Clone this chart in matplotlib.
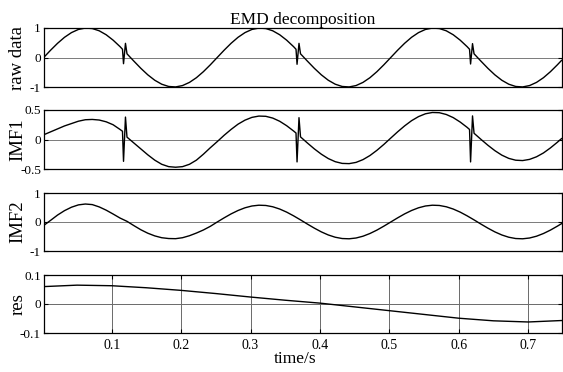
import numpy as np
import matplotlib
matplotlib.use("Agg")
import matplotlib.pyplot as plt

# ---------------- data ----------------
# regular sample grid (s)
t_base = np.round(0.002 + 0.01 * np.arange(75), 3).tolist() + [0.748]

raw_base = [
    0.000, 0.249, 0.482, 0.685, 0.844, 0.951, 0.998, 0.982, 0.905, 0.771, 0.588, 0.368, 0.125,
    -0.125, -0.368, -0.588, -0.771, -0.905, -0.982, -0.998, -0.951, -0.844, -0.685, -0.482, -0.249,
    0.000, 0.249, 0.482, 0.685, 0.844, 0.951, 0.998, 0.982, 0.905, 0.771, 0.588, 0.368, 0.125,
    -0.125, -0.368, -0.588, -0.771, -0.905, -0.982, -0.998, -0.951, -0.844, -0.685, -0.482, -0.249,
    0.000, 0.249, 0.482, 0.685, 0.844, 0.951, 0.998, 0.982, 0.905, 0.771, 0.588, 0.368, 0.125,
    -0.125, -0.368, -0.588, -0.771, -0.905, -0.982, -0.998, -0.951, -0.844, -0.685, -0.482, -0.249,
    -0.100,
]

imf1_base = [
    0.080, 0.130, 0.180, 0.230, 0.270, 0.310, 0.335, 0.340, 0.330, 0.300, 0.250, 0.170, 0.040,
    -0.060, -0.160, -0.260, -0.350, -0.420, -0.460, -0.470, -0.460, -0.420, -0.350, -0.250, -0.140,
    -0.036, 0.072, 0.171, 0.260, 0.328, 0.375, 0.397, 0.393, 0.363, 0.309, 0.234, 0.144, 0.044,
    -0.060, -0.160, -0.249, -0.323, -0.376, -0.405, -0.409, -0.388, -0.341, -0.272, -0.184, -0.084,
    0.024, 0.131, 0.231, 0.319, 0.388, 0.436, 0.458, 0.454, 0.424, 0.371, 0.296, 0.206, 0.106,
    0.002, -0.098, -0.189, -0.265, -0.320, -0.351, -0.357, -0.337, -0.293, -0.228, -0.143, -0.047,
    0.015,
]

imf2_base = [
    -0.120, 0.058, 0.240, 0.392, 0.510, 0.590, 0.620, 0.600, 0.520, 0.408, 0.275, 0.136, 0.023,
    -0.126, -0.268, -0.387, -0.479, -0.542, -0.570, -0.575, -0.542, -0.473, -0.381, -0.276, -0.150,
    0.000, 0.144, 0.280, 0.397, 0.490, 0.552, 0.579, 0.570, 0.525, 0.447, 0.341, 0.213, 0.073,
    -0.073, -0.213, -0.341, -0.447, -0.525, -0.570, -0.579, -0.552, -0.490, -0.397, -0.280, -0.144,
    0.000, 0.144, 0.280, 0.397, 0.490, 0.552, 0.579, 0.570, 0.525, 0.447, 0.341, 0.213, 0.073,
    -0.073, -0.213, -0.341, -0.447, -0.525, -0.570, -0.579, -0.552, -0.490, -0.397, -0.280, -0.144,
    -0.058,
]

# spike samples (s)
t_spike = [0.1155, 0.1170, 0.1198, 0.3655, 0.3670, 0.3698, 0.6155, 0.6170, 0.6198]
raw_spike = [0.28, -0.21, 0.48, 0.28, -0.23, 0.48, 0.28, -0.22, 0.47]
imf1_spike = [0.14, -0.37, 0.38, 0.11, -0.38, 0.37, 0.17, -0.38, 0.40]

# residual
t_res = [0.002, 0.05, 0.10, 0.15, 0.20, 0.25, 0.30, 0.35, 0.40, 0.45, 0.50,
         0.55, 0.60, 0.65, 0.70, 0.748]
res_vals = [0.060, 0.065, 0.063, 0.056, 0.047, 0.036, 0.024, 0.013, 0.003,
            -0.010, -0.023, -0.036, -0.049, -0.058, -0.062, -0.057]

panel_labels = ["raw data", "IMF1", "IMF2", "res"]
y_ticks = [[-1, 0, 1], [-0.5, 0, 0.5], [-1, 0, 1], [-0.1, 0, 0.1]]
y_ticklabels = [["-1", "0", "1"], ["-0.5", "0", "0.5"], ["-1", "0", "1"], ["-0.1", "0", "0.1"]]
x_ticks = [0.1, 0.2, 0.3, 0.4, 0.5, 0.6, 0.7]
x_ticklabels = ["0.1", "0.2", "0.3", "0.4", "0.5", "0.6", "0.7"]
title = "EMD decomposition"
xlabel = "time/s"


def merge(tb, vb, ts, vs):
    t = np.array(list(tb) + list(ts))
    v = np.array(list(vb) + list(vs))
    o = np.argsort(t)
    return t[o], v[o]


t_raw, v_raw = merge(t_base, raw_base, t_spike, raw_spike)
t_imf1, v_imf1 = merge(t_base, imf1_base, t_spike, imf1_spike)
series = [(t_raw, v_raw), (t_imf1, v_imf1), (np.array(t_base), np.array(imf2_base)),
          (np.array(t_res), np.array(res_vals))]

# ---------------- figure ----------------
plt.rcParams['font.family'] = ['Liberation Serif', 'DejaVu Serif']
fig = plt.figure(figsize=(5.63, 3.72), dpi=100)
W, H = 563.0, 372.0
left, right = 43.7, 561.5
tops = [28, 110, 193, 275]
bots = [87, 169, 251, 333]

for i in range(4):
    ax = fig.add_axes([left / W, 1 - bots[i] / H, (right - left) / W, (bots[i] - tops[i]) / H])
    tt, vv = series[i]
    ax.plot(tt, vv, color='black', lw=1.0)
    ax.set_xlim(0.002, 0.748)
    ax.set_ylim(y_ticks[i][0], y_ticks[i][-1])
    ax.set_yticks(y_ticks[i])
    ax.set_yticklabels(y_ticklabels[i], fontsize=9.5)
    ax.set_ylabel(panel_labels[i], fontsize=13.5)
    ax.yaxis.set_label_coords(-0.034, 0.5)
    for s in ax.spines.values():
        s.set_linewidth(0.9)
    ax.tick_params(axis='y', direction='in', length=3, width=0.8, left=True, right=True, pad=2)
    if i < 3:
        ax.set_xticks(x_ticks)
        ax.tick_params(axis='x', length=0, labelbottom=False)
        ax.grid(True, axis='y', color='#7a7a7a', lw=0.7)
    else:
        ax.set_xticks(x_ticks)
        ax.set_xticklabels(x_ticklabels, fontsize=10)
        ax.tick_params(axis='x', direction='in', length=3, width=0.8, top=True, pad=4)
        ax.grid(True, axis='both', color='#6a6a6a', lw=0.7)
        ax.set_xlabel(xlabel, fontsize=12.5, labelpad=0)
        ax.xaxis.set_label_coords(0.486, -0.31)
        ax.xaxis.label.set_va('top')
    if i == 0:
        ax.set_title(title, fontsize=12.5, pad=3)

fig.savefig("out.png", dpi=100)
